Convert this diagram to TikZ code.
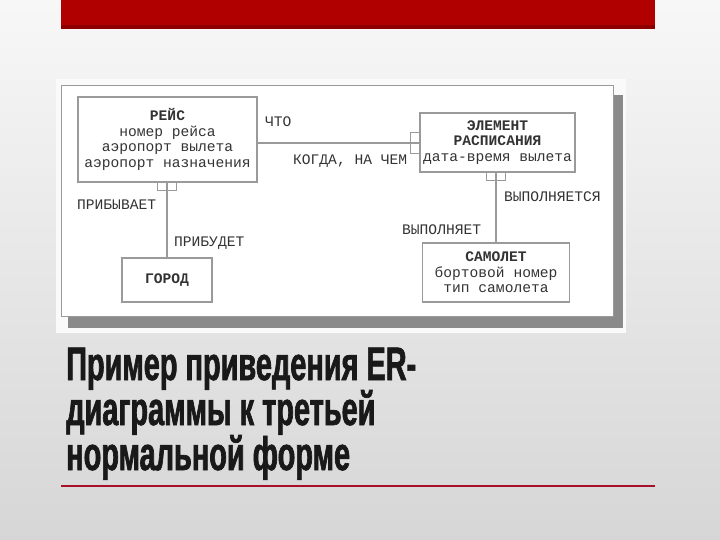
\documentclass[tikz,border=0pt]{standalone}
\usepackage{fontspec}
\newfontfamily\erfont{Liberation Mono}
\newfontfamily\titlefont[FakeStretch=0.615,FakeBold=1.4]{Liberation Sans}
\definecolor{barred}{HTML}{B00000}
\definecolor{bardark}{HTML}{8E0000}
\definecolor{linered}{HTML}{A8102A}
\definecolor{ink}{HTML}{333333}
\definecolor{boxline}{HTML}{9A9A9A}
\definecolor{shadowgray}{HTML}{8A8A8A}
\tikzset{
  entity/.style={draw=boxline, line width=1.1pt, fill=white, text=ink, align=center,
    inner sep=0pt, font=\erfont\fontsize{14.6}{15.5}\selectfont},
  rellabel/.style={text=ink, inner sep=0pt, font=\erfont\fontsize{14.6}{15.5}\selectfont},
  mk/.style={draw=boxline, line width=0.9pt, fill=white, inner sep=0pt},
  conn/.style={draw=boxline, line width=1.1pt},
  titleline/.style={text=black!90, inner sep=0pt, font=\titlefont\bfseries\fontsize{47}{45}\selectfont}
}
\begin{document}
\begin{tikzpicture}[x=1pt,y=-1pt]
\useasboundingbox (0,0) rectangle (720,540);
% background
\shade[top color=white!97!black, bottom color=black!16] (0,0) rectangle (720,540);
% top red bar
\fill[barred] (61,0) rectangle (655,29);
\fill[bardark] (61,25) rectangle (655,29);
% picture panel
\fill[white!98!black] (56,79) rectangle (626,333);
\fill[shadowgray] (613,95) rectangle (623,328);
\fill[shadowgray] (68,316) rectangle (623,328);
\draw[boxline, line width=0.9pt, fill=white] (61,85) rectangle (613,316);
% entities
\node[entity, minimum width=179pt, minimum height=85pt] (rejs) at (167.5,139.5)
  {\textbf{РЕЙС}\\номер рейса\\аэропорт вылета\\аэропорт назначения};
\node[entity, minimum width=155pt, minimum height=59pt] (elem) at (497.5,142.5)
  {\textbf{ЭЛЕМЕНТ}\\\textbf{РАСПИСАНИЯ}\\дата-время вылета};
\node[entity, minimum width=90pt, minimum height=44pt] (gorod) at (167,280)
  {\textbf{ГОРОД}};
\node[entity, minimum width=147pt, minimum height=59pt] (samolet) at (496,272.5)
  {\textbf{САМОЛЕТ}\\бортовой номер\\тип самолета};
% markers
\node[mk, minimum width=9pt, minimum height=8pt, anchor=north east] (m1l) at (167,182) {};
\node[mk, minimum width=9pt, minimum height=8pt, anchor=north west] (m1r) at (167,182) {};
\node[mk, minimum width=9pt, minimum height=10pt, anchor=south east] (m2t) at (420,143) {};
\node[mk, minimum width=9pt, minimum height=10pt, anchor=north east] (m2b) at (420,143) {};
\node[mk, minimum width=9pt, minimum height=8pt, anchor=north east] (m3l) at (496,172) {};
\node[mk, minimum width=9pt, minimum height=8pt, anchor=north west] (m3r) at (496,172) {};
% connectors
\draw[conn] (m1l.south east) -- (gorod.north);
\draw[conn] (rejs.east |- m2t.south west) -- (m2t.south west);
\draw[conn] (m3l.south east) -- (samolet.north);
% relationship labels
\node[rellabel, anchor=west] (l1) at (265,122) {ЧТО};
\node[rellabel, anchor=west] (l2) at (293,161) {КОГДА, НА ЧЕМ};
\node[rellabel, anchor=west] (l3) at (77,205) {ПРИБЫВАЕТ};
\node[rellabel, anchor=west] (l4) at (174,243) {ПРИБУДЕТ};
\node[rellabel, anchor=west] (l5) at (504,197) {ВЫПОЛНЯЕТСЯ};
\node[rellabel, anchor=west] (l6) at (402,230) {ВЫПОЛНЯЕТ};
% title
\node[titleline, anchor=base west] (t1) at (66,380) {Пример приведения ER-};
\node[titleline, anchor=base west] (t2) at (66,425) {диаграммы к третьей};
\node[titleline, anchor=base west] (t3) at (66,470) {нормальной форме};
% red underline
\draw[linered, line width=2pt] (61,486) -- (655,486);
\end{tikzpicture}
\end{document}
